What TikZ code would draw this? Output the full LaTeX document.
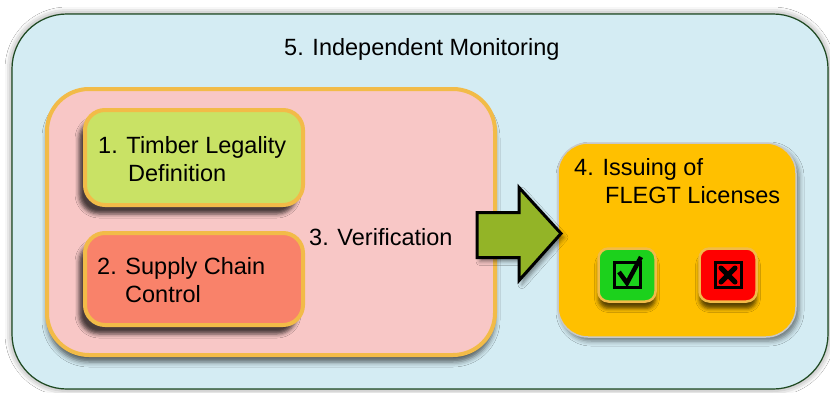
\documentclass[tikz,border=0pt]{standalone}
\usepackage{fontspec}
\setmainfont{Liberation Sans}
\usetikzlibrary{shadows.blur}
\definecolor{monfill}{HTML}{D4ECF3}
\definecolor{monline}{HTML}{1E4A22}
\definecolor{verfill}{HTML}{F8C7C6}
\definecolor{goldline}{HTML}{F2BB48}
\definecolor{legalfill}{HTML}{C9E265}
\definecolor{supplyfill}{HTML}{F9826A}
\definecolor{arrowfill}{HTML}{93B427}
\definecolor{issuefill}{HTML}{FFC000}
\definecolor{issueline}{HTML}{C8C8C8}
\definecolor{okfill}{HTML}{1CD11C}
\definecolor{nofill}{HTML}{FF0000}
\tikzset{
  txt/.style={font=\fontsize{23.5}{28.5}\selectfont, inner sep=0pt, text=black},
  panel/.style={rounded corners=#1, minimum width=0pt, minimum height=0pt, inner sep=0pt},
  stepbox/.style={panel=20pt, draw=goldline, line width=4pt,
    blur shadow={shadow xshift=-6pt, shadow yshift=-9pt, shadow blur radius=4pt, shadow opacity=70}},
  tick/.style={panel=10pt, draw=goldline, line width=2.5pt,
    blur shadow={shadow xshift=0pt, shadow yshift=-7pt, shadow blur radius=4pt, shadow opacity=65}},
}
\begin{document}
\begin{tikzpicture}[x=1pt, y=-1pt]
\useasboundingbox[fill=white] (0,0) rectangle (830,392);

% 5. outer monitoring frame
\node[panel=55pt, draw=monline, line width=1.2pt, fill=monfill,
  minimum width=816pt, minimum height=375pt,
  blur shadow={shadow xshift=0pt, shadow yshift=0pt, shadow blur radius=7pt, shadow opacity=50}]
  (mon) at (420,201.5) {};
\node[txt, anchor=base west] (montxt) at (284,55) {5. Independent Monitoring};

% 3. verification frame
\node[panel=42pt, draw=goldline, line width=4pt, fill=verfill,
  minimum width=448pt, minimum height=266pt,
  blur shadow={shadow xshift=0pt, shadow yshift=-7pt, shadow blur radius=5pt, shadow opacity=60}]
  (ver) at (271,222) {};

% 1. and 2.
\node[stepbox, fill=legalfill, minimum width=218pt, minimum height=95pt] (legal) at (194,157.5) {};
\node[stepbox, fill=supplyfill, minimum width=218pt, minimum height=92pt] (supply) at (194,279) {};
\node[txt, anchor=north west, align=left] (legaltxt) at (98,136)
  {1. Timber Legality\\\hspace*{30pt}Definition};
\node[txt, anchor=north west, align=left] (supplytxt) at (97,257)
  {2. Supply Chain\\\hspace*{28pt}Control};
\node[txt, anchor=base west] (vertxt) at (309,245) {3. Verification};

% 4. licensing
\node[panel=30pt, draw=issueline, line width=1.5pt, fill=issuefill,
  minimum width=238pt, minimum height=194pt,
  blur shadow={shadow xshift=3pt, shadow yshift=-4pt, shadow blur radius=5pt, shadow opacity=50}]
  (issue) at (677,240) {};
\node[txt, anchor=north west, align=left] (issuetxt) at (574,158)
  {4. Issuing of\\\hspace*{31pt}FLEGT Licenses};

% block arrow from verification to licensing
\coordinate (tip) at (561,233.5);
\filldraw[fill=arrowfill, draw=black, line width=3pt, line join=miter,
  blur shadow={shadow xshift=3pt, shadow yshift=-4pt, shadow blur radius=4pt, shadow opacity=45}]
  (tip) -- ++(-42,-46) -- ++(0,25) -- ++(-42,0) -- ++(0,45) -- ++(42,0) -- ++(0,23) -- cycle;

% approval and rejection buttons
\node[tick, fill=okfill, minimum width=57pt, minimum height=53pt] (ok) at (627,275) {};
\node[tick, fill=nofill, minimum width=57pt, minimum height=53pt] (no) at (728,275) {};

\draw[line width=3pt] ([shift={(-13,-13)}]ok.center) rectangle ([shift={(13,12)}]ok.center);
\draw[line width=4.5pt, line join=miter]
  ([shift={(-8,-3)}]ok.center) -- ([shift={(0,8)}]ok.center) -- ([shift={(14,-18)}]ok.center);

\draw[line width=3pt] ([shift={(-13,-13)}]no.center) rectangle ([shift={(13,12)}]no.center);
\draw[line width=5pt, line cap=round]
  ([shift={(-7,-7)}]no.center) -- ([shift={(7,7)}]no.center)
  ([shift={(7,-7)}]no.center) -- ([shift={(-7,7)}]no.center);
\end{tikzpicture}
\end{document}
